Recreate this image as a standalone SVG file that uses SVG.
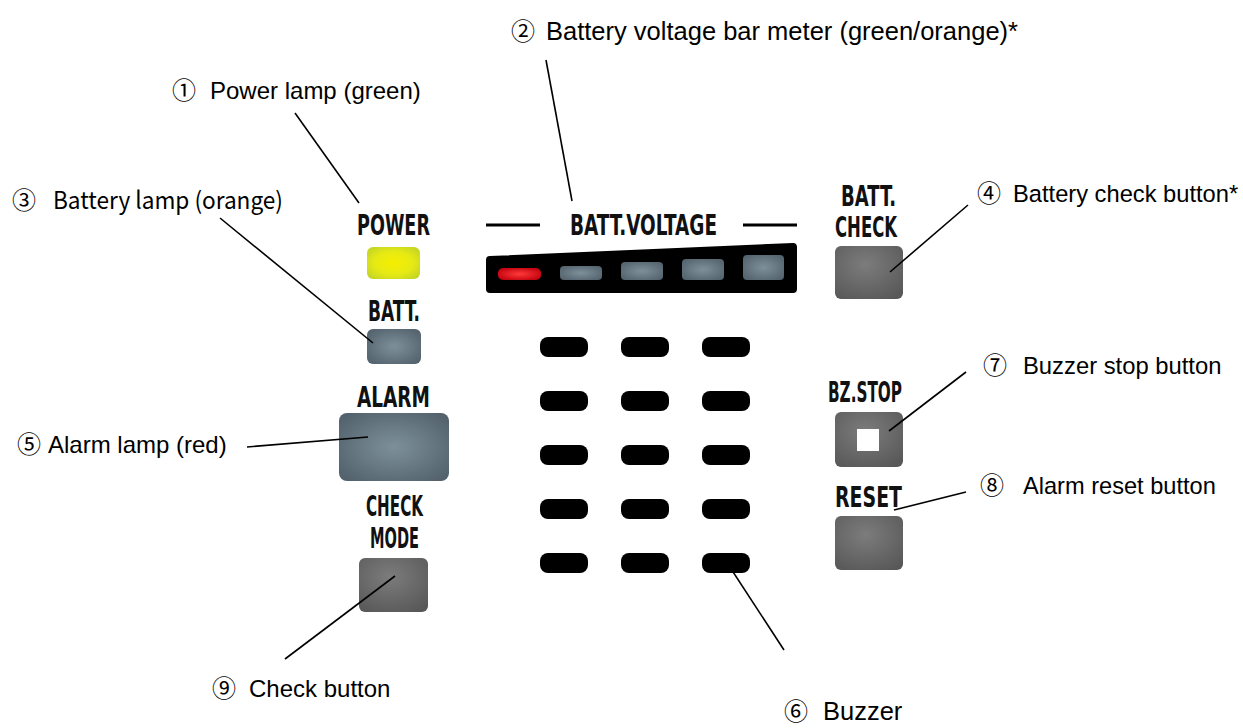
<svg xmlns="http://www.w3.org/2000/svg" width="1243" height="728" viewBox="0 0 1243 728">
<defs>
<style>
.lbl{font-family:"Liberation Sans","Noto Sans CJK JP",sans-serif;font-size:24px;fill:#000}
.lbl3{font-family:"Noto Sans CJK JP","Liberation Sans",sans-serif;font-size:24px;fill:#000}
.pt{font-family:"Liberation Sans Narrow","DejaVu Sans Condensed","Liberation Sans",sans-serif;font-weight:bold;font-size:29px;fill:#111;text-anchor:middle}
.lead{stroke:#000;stroke-width:1.6;fill:none}
.buz{fill:#000}
</style>
<radialGradient id="gYel" cx="50%" cy="50%" r="60%">
<stop offset="0" stop-color="#f6ee00"/><stop offset="0.6" stop-color="#e6ea14"/><stop offset="1" stop-color="#c6d624"/>
</radialGradient>
<radialGradient id="gBlue" cx="50%" cy="50%" r="65%">
<stop offset="0" stop-color="#7d909a"/><stop offset="1" stop-color="#52616b"/>
</radialGradient>
<radialGradient id="gGray" cx="45%" cy="35%" r="75%">
<stop offset="0" stop-color="#7c7c7c"/><stop offset="1" stop-color="#585858"/>
</radialGradient>
<radialGradient id="gRed" cx="50%" cy="50%" r="60%">
<stop offset="0" stop-color="#ff3a3a"/><stop offset="1" stop-color="#c0000c"/>
</radialGradient>
</defs>
<rect width="1243" height="728" fill="#fff"/>

<g id="power-lamp">
<text class="pt" x="393.5" y="235" textLength="73" lengthAdjust="spacingAndGlyphs">POWER</text>
<rect x="367" y="247" width="53" height="32" rx="6" fill="url(#gYel)"/>
</g>
<g id="batt-lamp">
<text class="pt" x="394" y="321" textLength="52" lengthAdjust="spacingAndGlyphs">BATT.</text>
<rect x="367" y="329" width="54" height="35" rx="6" fill="url(#gBlue)"/>
</g>
<g id="alarm-lamp">
<text class="pt" x="393.5" y="407" textLength="73" lengthAdjust="spacingAndGlyphs">ALARM</text>
<rect x="339" y="413" width="110" height="68" rx="8" fill="url(#gBlue)"/>
</g>
<g id="check-button">
<text class="pt" x="394.5" y="516" textLength="57" lengthAdjust="spacingAndGlyphs">CHECK</text>
<text class="pt" x="394.5" y="548" textLength="49" lengthAdjust="spacingAndGlyphs">MODE</text>
<rect x="359" y="558" width="69" height="54" rx="6" fill="url(#gGray)"/>
</g>
<g id="batt-voltage-meter">
<text class="pt" x="643.5" y="235" textLength="147" lengthAdjust="spacingAndGlyphs">BATT.VOLTAGE</text>
<line x1="486" y1="225" x2="540" y2="225" stroke="#000" stroke-width="3"/>
<line x1="743" y1="225" x2="797" y2="225" stroke="#000" stroke-width="3"/>
<path d="M490 260 L793 247 L793 289 L490 289 Z" fill="#000" stroke="#000" stroke-width="8" stroke-linejoin="round"/>
<rect x="498" y="268" width="43" height="12" rx="5" fill="url(#gRed)"/>
<rect x="560" y="266" width="42" height="14" rx="4" fill="url(#gBlue)"/>
<rect x="621" y="262" width="42" height="18" rx="4" fill="url(#gBlue)"/>
<rect x="682" y="259" width="42" height="21" rx="4" fill="url(#gBlue)"/>
<rect x="743" y="255" width="41" height="25" rx="4" fill="url(#gBlue)"/>
</g>
<g id="batt-check-button">
<text class="pt" x="868.5" y="206" font-size="27" textLength="55" lengthAdjust="spacingAndGlyphs">BATT.</text>
<text class="pt" x="866" y="237" font-size="27" textLength="62" lengthAdjust="spacingAndGlyphs">CHECK</text>
<rect x="835" y="246" width="68" height="53" rx="6" fill="url(#gGray)"/>
</g>
<g id="bz-stop-button">
<text class="pt" x="865" y="402" textLength="74" lengthAdjust="spacingAndGlyphs">BZ.STOP</text>
<rect x="835" y="412" width="68" height="55" rx="6" fill="url(#gGray)"/>
<rect x="857" y="429" width="22" height="22" fill="#fff"/>
</g>
<g id="reset-button">
<text class="pt" x="868.5" y="507" textLength="67" lengthAdjust="spacingAndGlyphs">RESET</text>
<rect x="835" y="516" width="68" height="54" rx="6" fill="url(#gGray)"/>
</g>
<g id="buzzer">
<rect class="buz" x="540" y="337" width="48" height="20" rx="8"/>
<rect class="buz" x="621" y="337" width="48" height="20" rx="8"/>
<rect class="buz" x="702" y="337" width="48" height="20" rx="8"/>
<rect class="buz" x="540" y="391" width="48" height="20" rx="8"/>
<rect class="buz" x="621" y="391" width="48" height="20" rx="8"/>
<rect class="buz" x="702" y="391" width="48" height="20" rx="8"/>
<rect class="buz" x="540" y="445" width="48" height="20" rx="8"/>
<rect class="buz" x="621" y="445" width="48" height="20" rx="8"/>
<rect class="buz" x="702" y="445" width="48" height="20" rx="8"/>
<rect class="buz" x="540" y="499" width="48" height="20" rx="8"/>
<rect class="buz" x="621" y="499" width="48" height="20" rx="8"/>
<rect class="buz" x="702" y="499" width="48" height="20" rx="8"/>
<rect class="buz" x="540" y="553" width="48" height="20" rx="8"/>
<rect class="buz" x="621" y="553" width="48" height="20" rx="8"/>
<rect class="buz" x="702" y="553" width="48" height="20" rx="8"/>
</g>

<g id="labels">
<text class="lbl" x="172" y="99">①<tspan x="210">Power lamp (green)</tspan></text>
<text class="lbl" x="511" y="40">②<tspan x="546" font-size="25.5">Battery voltage bar meter (green/orange)*</tspan></text>
<text class="lbl3" x="12" y="209">③<tspan x="53" textLength="230" lengthAdjust="spacingAndGlyphs">Battery lamp (orange)</tspan></text>
<text class="lbl" x="977" y="202">④<tspan x="1013" font-size="23.7">Battery check button*</tspan></text>
<text class="lbl" x="17" y="453">⑤<tspan x="48">Alarm lamp (red)</tspan></text>
<text class="lbl" x="784" y="720">⑥<tspan x="823" font-size="25.5">Buzzer</tspan></text>
<text class="lbl" x="983" y="374">⑦<tspan x="1023" font-size="23.8">Buzzer stop button</tspan></text>
<text class="lbl" x="980" y="494">⑧<tspan x="1023" font-size="23.6">Alarm reset button</tspan></text>
<text class="lbl" x="212" y="697">⑨<tspan x="249">Check button</tspan></text>
</g>

<g id="connectors">
<line class="lead" x1="295" y1="113" x2="359" y2="203"/>
<line class="lead" x1="546" y1="60" x2="572" y2="201"/>
<line class="lead" x1="220" y1="218" x2="373" y2="343"/>
<line class="lead" x1="968" y1="205" x2="890" y2="272"/>
<line class="lead" x1="247" y1="447" x2="368" y2="437"/>
<line class="lead" x1="784" y1="650" x2="722" y2="555"/>
<line class="lead" x1="966" y1="372" x2="889" y2="431"/>
<line class="lead" x1="966" y1="492" x2="894" y2="510"/>
<line class="lead" x1="285" y1="659" x2="395" y2="576"/>
</g>
</svg>
